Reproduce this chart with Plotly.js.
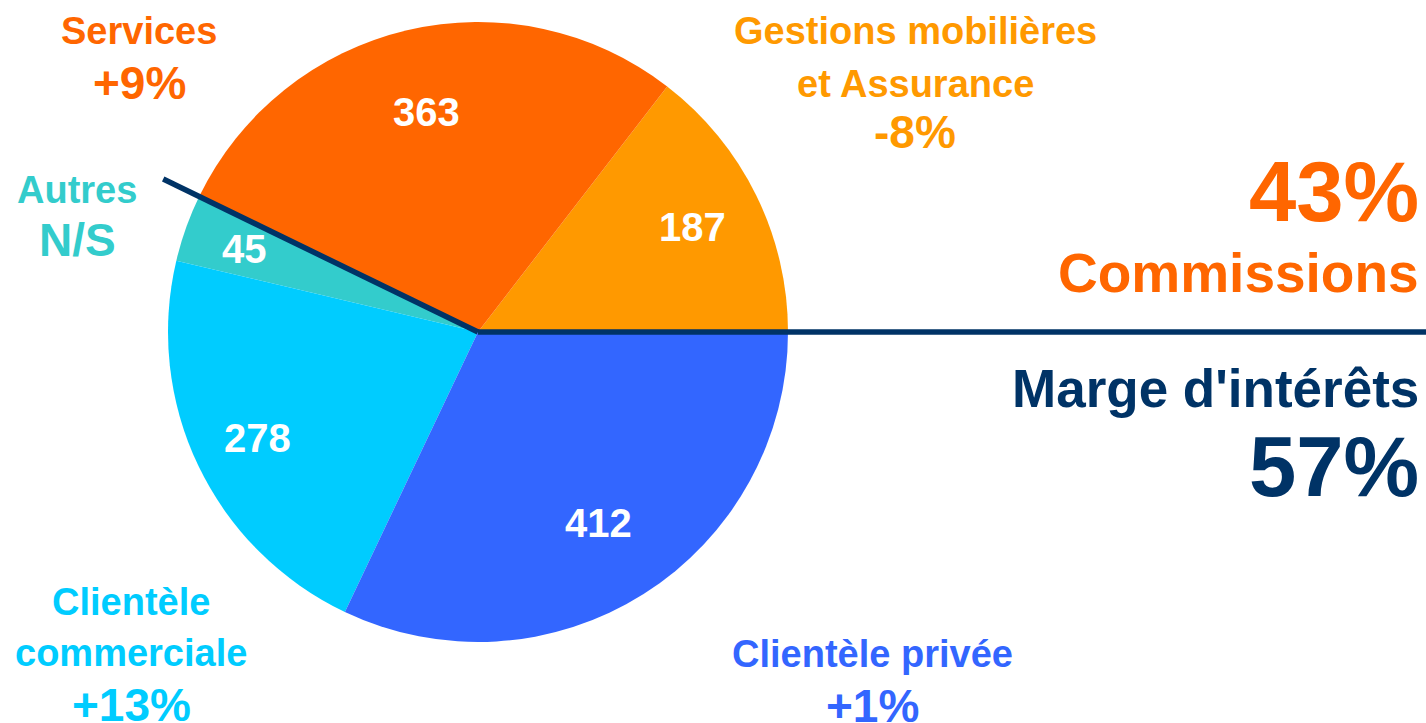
<!DOCTYPE html>
<html>
<head>
<meta charset="utf-8">
<script src="https://cdn.plot.ly/plotly-3.0.1.min.js"></script>
<style>
  body { margin: 0; background: #fff; }
  #pie { width: 1426px; height: 723px; }
</style>
</head>
<body>
<div id="pie"></div>
<script>
// data
const labels = ["Gestions mobilières et Assurance", "Services", "Autres", "Clientèle commerciale", "Clientèle privée"];
const values = [187, 363, 45, 278, 412];
const nameLines = [["Gestions mobilières", "et Assurance"], ["Services"], ["Autres"], ["Clientèle", "commerciale"], ["Clientèle privée"]];
const growth = ["-8%", "+9%", "N/S", "+13%", "+1%"];
const colors = ["#FF9900", "#FF6600", "#33CCCC", "#00CCFF", "#3366FF"];
const navy = "#003366";

const W = 1426, H = 723;
const cx = 478, cy = 332, R = 310;
const font = "Liberation Sans, Arial, sans-serif";

// pixel -> paper
function px(x) { return x / W; }
function py(y) { return 1 - y / H; }

// where the outside labels sit (pixels): x, y of each line
const labelPos = [
  {x: 915, ys: [31, 84, 132]},
  {x: 139, ys: [31, 83]},
  {x: 77, ys: [190, 240]},
  {x: 131, ys: [602, 653, 705]},
  {x: 872, ys: [654, 706]}
];
// how far out (fraction of radius) the value sits in each slice
const valueRad = [0.77, 0.73, 0.80, 0.79, 0.73];

let total = values.reduce((a, b) => a + b, 0);

let annotations = [];
for (let i = 0; i < labels.length; i++) {
  let lines = nameLines[i].concat([growth[i]]);
  for (let j = 0; j < lines.length; j++) {
    let isPct = j == lines.length - 1;
    annotations.push({
      x: px(labelPos[i].x), y: py(labelPos[i].ys[j]), xref: "paper", yref: "paper",
      xanchor: "center", yanchor: "middle", showarrow: false,
      text: lines[j],
      font: {family: font, size: isPct ? 46 : 38, color: colors[i], weight: "bold"}
    });
  }
}

// values inside the slices, placed on each slice's mid angle
let cum = 0;
for (let i = 0; i < values.length; i++) {
  let mid = (cum + values[i] / 2) / total * 2 * Math.PI;
  cum += values[i];
  let r = R * valueRad[i];
  annotations.push({
    x: px(cx + r * Math.cos(mid)), y: py(cy - r * Math.sin(mid)), xref: "paper", yref: "paper",
    xanchor: "center", yanchor: "middle", showarrow: false,
    text: String(values[i]),
    font: {family: font, size: 40, color: "#ffffff", weight: "bold"}
  });
}

// totals on the right
let commissions = values[0] + values[1];
let pctCom = Math.round(commissions / total * 100);
let pctMarge = 100 - pctCom;
let sideText = [
  {t: pctCom + "%", y: 192, size: 85, color: "#FF6600"},
  {t: "Commissions", y: 273, size: 55, color: "#FF6600"},
  {t: "Marge d'intérêts", y: 388, size: 53, color: navy},
  {t: pctMarge + "%", y: 466, size: 85, color: navy}
];
for (let s of sideText) {
  annotations.push({
    x: px(1421), y: py(s.y), xref: "paper", yref: "paper",
    xanchor: "right", yanchor: "middle", showarrow: false,
    text: s.t, font: {family: font, size: s.size, color: s.color, weight: "bold"}
  });
}

// divider lines: horizontal at 3 o'clock and along the Services / Autres edge
let edge = commissions / total * 2 * Math.PI;
let lineLen = 350;
let shapes = [
  {type: "line", xref: "paper", yref: "paper", x0: px(cx), y0: py(cy), x1: 1, y1: py(cy),
   line: {color: navy, width: 5.5}},
  {type: "line", xref: "paper", yref: "paper", x0: px(cx), y0: py(cy),
   x1: px(cx + lineLen * Math.cos(edge)), y1: py(cy - lineLen * Math.sin(edge)),
   line: {color: navy, width: 5.5}}
];

// plotly's counterclockwise pies end the first slice at the rotation angle,
// so shift it back so the first slice starts at 3 o'clock
let rot = 90 - values[0] / total * 360;

let data = [{
  type: "pie",
  labels: labels,
  values: values,
  sort: false,
  direction: "counterclockwise",
  rotation: rot,
  marker: {colors: colors, line: {width: 0}},
  textinfo: "none",
  hoverinfo: "none",
  domain: {x: [px(cx - R), px(cx + R)], y: [py(cy + R), py(cy - R)]}
}];

let layout = {
  width: W, height: H,
  margin: {l: 0, r: 0, t: 0, b: 0},
  showlegend: false,
  paper_bgcolor: "#ffffff",
  annotations: annotations,
  shapes: shapes
};

Plotly.newPlot("pie", data, layout, {displayModeBar: false, staticPlot: true});
</script>
</body>
</html>
